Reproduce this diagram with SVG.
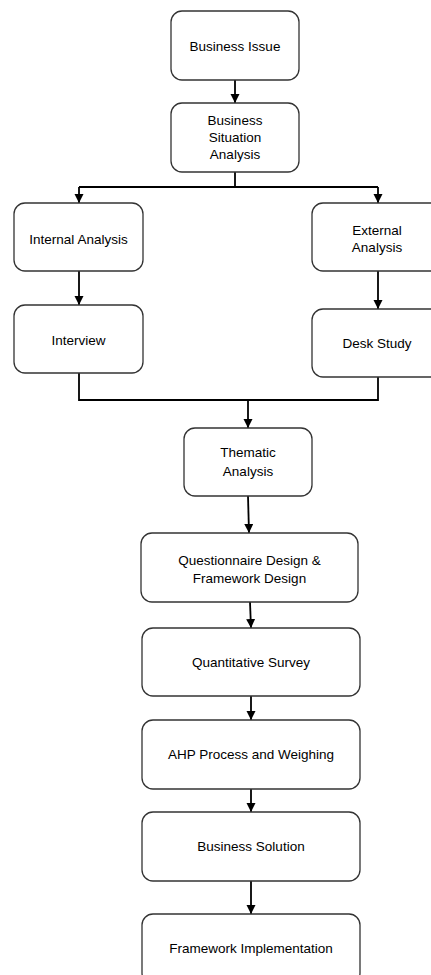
<svg xmlns="http://www.w3.org/2000/svg" width="431" height="975" viewBox="0 0 431 975">
<style>
.box{fill:#fff;stroke:#333;stroke-width:1.3}
.t{font-family:"Liberation Sans",Arial,sans-serif;font-size:13.5px;fill:#000;text-anchor:middle}
.c{fill:none;stroke:#000;stroke-width:1.8}
</style>
<defs>
<marker id="ah" markerUnits="userSpaceOnUse" markerWidth="10" markerHeight="10" refX="9" refY="4.5" orient="auto">
<path d="M0,0 L9,4.5 L0,9 z" fill="#000"/>
</marker>
</defs>
<rect width="431" height="975" fill="#fff"/>
<g id="connectors">
<line class="c" x1="235" y1="80" x2="235" y2="103" marker-end="url(#ah)"/>
<polyline class="c" points="235,172 235,187"/>
<polyline class="c" points="79,187 378,187"/>
<line class="c" x1="79" y1="187" x2="79" y2="203" marker-end="url(#ah)"/>
<line class="c" x1="378" y1="187" x2="378" y2="203" marker-end="url(#ah)"/>
<line class="c" x1="79" y1="271" x2="79" y2="305" marker-end="url(#ah)"/>
<line class="c" x1="378" y1="271" x2="378" y2="309" marker-end="url(#ah)"/>
<polyline class="c" points="79,373 79,400 378,400 378,377"/>
<line class="c" x1="248" y1="400" x2="248" y2="428" marker-end="url(#ah)"/>
<line class="c" x1="248" y1="496" x2="249" y2="533" marker-end="url(#ah)"/>
<line class="c" x1="250" y1="602" x2="251" y2="628" marker-end="url(#ah)"/>
<line class="c" x1="251" y1="696" x2="251" y2="720" marker-end="url(#ah)"/>
<line class="c" x1="251" y1="789" x2="251" y2="812" marker-end="url(#ah)"/>
<line class="c" x1="251" y1="881" x2="251" y2="914" marker-end="url(#ah)"/>
</g>
<g id="business-issue">
<rect class="box" x="171" y="11" width="128" height="69" rx="11"/>
<text class="t" x="235" y="51">Business Issue</text>
</g>
<g id="business-situation-analysis">
<rect class="box" x="171" y="103" width="128" height="69" rx="11"/>
<text class="t" x="235" y="125">Business</text>
<text class="t" x="235" y="142">Situation</text>
<text class="t" x="235" y="159">Analysis</text>
</g>
<g id="internal-analysis">
<rect class="box" x="14" y="203" width="129" height="68" rx="11"/>
<text class="t" x="78.5" y="244">Internal Analysis</text>
</g>
<g id="interview">
<rect class="box" x="14" y="305" width="129" height="68" rx="11"/>
<text class="t" x="78.5" y="345">Interview</text>
</g>
<g id="external-analysis">
<rect class="box" x="312" y="203" width="130" height="68" rx="11"/>
<text class="t" x="377" y="235">External</text>
<text class="t" x="377" y="252">Analysis</text>
</g>
<g id="desk-study">
<rect class="box" x="312" y="309" width="130" height="68" rx="11"/>
<text class="t" x="377" y="348">Desk Study</text>
</g>
<g id="thematic-analysis">
<rect class="box" x="184" y="428" width="128" height="68" rx="11"/>
<text class="t" x="248" y="457">Thematic</text>
<text class="t" x="248" y="476">Analysis</text>
</g>
<g id="questionnaire-design">
<rect class="box" x="141" y="533" width="217" height="69" rx="11"/>
<text class="t" x="249.5" y="565">Questionnaire Design &amp;</text>
<text class="t" x="249.5" y="583">Framework Design</text>
</g>
<g id="quantitative-survey">
<rect class="box" x="142" y="628" width="218" height="68" rx="11"/>
<text class="t" x="251" y="667">Quantitative Survey</text>
</g>
<g id="ahp-process">
<rect class="box" x="142" y="720" width="218" height="69" rx="11"/>
<text class="t" x="251" y="759">AHP Process and Weighing</text>
</g>
<g id="business-solution">
<rect class="box" x="142" y="812" width="218" height="69" rx="11"/>
<text class="t" x="251" y="851">Business Solution</text>
</g>
<g id="framework-implementation">
<rect class="box" x="142" y="914" width="218" height="70" rx="11"/>
<text class="t" x="251" y="953">Framework Implementation</text>
</g>
</svg>
